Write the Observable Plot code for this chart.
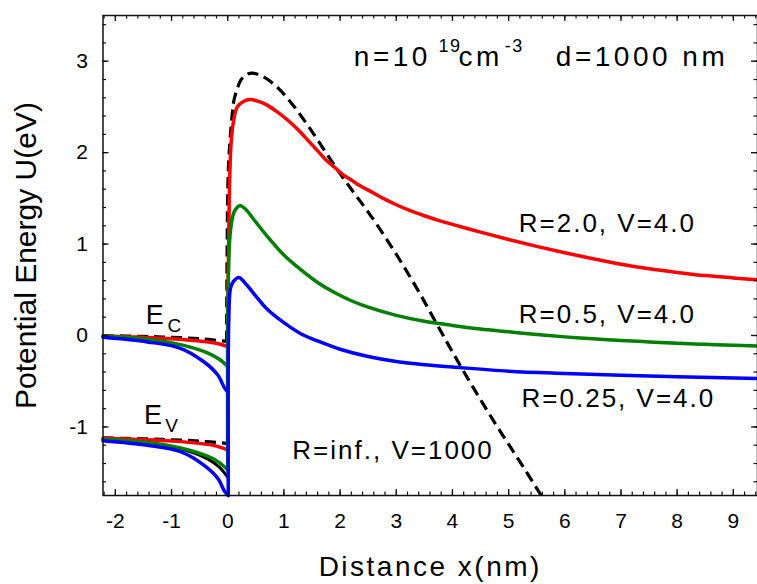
<!DOCTYPE html>
<html><head><meta charset="utf-8">
<script src="https://cdn.jsdelivr.net/npm/d3@7"></script>
<script src="https://cdn.jsdelivr.net/npm/@observablehq/plot@0.6"></script>
<style>
body{margin:0;background:#fff;}
#chart svg{display:block;}
</style></head><body><div id="chart"></div>
<script>
// ---- tick values ----
const xTicks = [-2,-1,0,1,2,3,4,5,6,7,8,9];
const yTicks = [-1,0,1,2,3];
const xMinor = d3.range(-2.2, 9.41, 0.2).map(v => +v.toFixed(1));
const yMinor = d3.range(-1.6, 3.41, 0.2).map(v => +v.toFixed(1));

// ---- curves [x (nm), U (eV)] ----
// R=inf., V=1000 (black dashed)
const dashC = [[-2.22,0.0],[-1.5,-0.01],[-1,-0.02],[-0.5,-0.035],[-0.02,-0.065]];
const dashV = [[-2.22,-1.12],[-1.5,-1.13],[-1,-1.14],[-0.5,-1.155],[-0.02,-1.18]];
const dashBarrier = [[-0.02,-0.065],[-0.01,1.0],[0.01,1.8],[0.04,2.13],[0.08,2.42],[0.11,2.57],[0.17,2.7],[0.23,2.79],[0.32,2.85],[0.44,2.87],[0.6,2.84],[0.8,2.76],[1.0,2.64],[1.2,2.49],[1.4,2.32],[1.6,2.14],[1.9,1.86],[2.2,1.6],[2.5,1.35],[2.8,1.08],[3.1,0.79],[3.4,0.48],[3.7,0.15],[4.0,-0.18],[4.4,-0.6],[4.8,-1.0],[5.2,-1.38],[5.6,-1.77]];
// R=2.0, V=4.0 (red)
const redC = [[-2.22,-0.005],[-1.5,-0.02],[-1,-0.035],[-0.5,-0.06],[-0.2,-0.085],[0,-0.12]];
const redV = [[-2.22,-1.125],[-1.5,-1.14],[-1,-1.155],[-0.5,-1.18],[-0.2,-1.21],[0,-1.25]];
const redBarrier = [[0,-1.25],[0.005,0.5],[0.03,1.6],[0.06,2.1],[0.1,2.33],[0.17,2.5],[0.28,2.56],[0.4,2.58],[0.55,2.56],[0.7,2.52],[0.85,2.46],[1.0,2.39],[1.15,2.31],[1.3,2.22],[1.45,2.12],[1.6,2.02],[1.75,1.92],[1.9,1.84],[2.05,1.76],[2.2,1.7],[2.35,1.64],[2.5,1.59],[2.75,1.505],[3.0,1.43],[3.25,1.365],[3.5,1.31],[3.75,1.26],[4.0,1.215],[4.5,1.13],[5.0,1.05],[5.5,0.975],[6.0,0.905],[6.5,0.84],[7.0,0.78],[7.5,0.73],[8.0,0.69],[8.5,0.655],[9.0,0.63],[9.43,0.61]];
// R=0.5, V=4.0 (green)
const greenC = [[-2.22,-0.005],[-1.43,-0.04],[-0.84,-0.1],[-0.36,-0.19],[-0.15,-0.26],[0,-0.34]];
const greenV = [[-2.22,-1.135],[-1.43,-1.17],[-0.84,-1.23],[-0.36,-1.32],[-0.15,-1.39],[0,-1.47]];
const greenBarrier = [[0,-1.47],[0.01,0.6],[0.05,1.15],[0.12,1.36],[0.22,1.42],[0.32,1.38],[0.45,1.28],[0.71,1.08],[1.0,0.88],[1.3,0.72],[1.6,0.58],[1.9,0.47],[2.2,0.38],[2.5,0.31],[3.0,0.22],[3.5,0.155],[4.0,0.11],[4.5,0.07],[5.0,0.04],[5.5,0.01],[6.0,-0.015],[6.5,-0.035],[7.0,-0.055],[7.5,-0.07],[8.0,-0.085],[8.5,-0.097],[9.0,-0.107],[9.43,-0.115]];
// extra valence curve (black solid)
const blackV = [[-2.22,-1.135],[-1.43,-1.18],[-0.84,-1.24],[-0.36,-1.35],[-0.15,-1.44],[0,-1.55]];
// R=0.25, V=4.0 (blue)
const blueC = [[-2.22,-0.02],[-1.43,-0.07],[-0.84,-0.14],[-0.42,-0.29],[-0.18,-0.43],[-0.05,-0.58],[0.01,-0.62]];
const blueV = [[-2.22,-1.15],[-1.43,-1.2],[-0.84,-1.27],[-0.42,-1.42],[-0.18,-1.56],[-0.05,-1.71],[0.01,-1.75]];
const blueBarrier = [[0.01,-1.75],[0.02,0.2],[0.05,0.52],[0.1,0.59],[0.2,0.635],[0.3,0.58],[0.45,0.47],[0.7,0.29],[1.0,0.14],[1.3,0.02],[1.6,-0.06],[2.0,-0.15],[2.5,-0.23],[3.0,-0.285],[3.5,-0.32],[4.0,-0.345],[5.0,-0.39],[6.0,-0.415],[7.0,-0.435],[8.0,-0.45],[9.43,-0.47]];

// ---- annotation text ----
const annLabels = ["R=2.0, V=4.0", "R=0.5, V=4.0", "R=0.25, V=4.0", "R=inf., V=1000"];
const annX = [5.18, 5.18, 5.23, 1.15];
const annY = [1.228, 0.233, -0.695, -1.263];
const titleMain = ["n=10", "cm", "d=1000 nm"];
const titleMainX = [2.245, 4.11, 5.84];
const titleSup = ["19", "-3"];
const titleSupX = [3.75, 4.93];
const bandMain = ["E", "E"];
const bandMainX = [-1.46, -1.49];
const bandMainY = [0.224, -0.877];
const bandSub = ["C", "V"];
const bandSubX = [-1.07, -1.11];
const bandSubY = [0.104, -0.991];
const xTitle = "Distance x(nm)";
const yTitle = "Potential Energy U(eV)";

const P = d => d[0], Q = d => d[1];
const ln = (data, stroke, extra = {}) => Plot.line(data, {x: P, y: Q, stroke, strokeWidth: 3.5, curve: "catmull-rom", strokeLinejoin: "round", ...extra});
const dashOpts = {stroke: "black", strokeDasharray: "11,6", strokeWidth: 3.2, strokeLinecap: "butt"};

const ML = 102.5, MR = 0, MT = 15, MB = 89, W = 757, H = 584;
const FW = W - ML - MR, FH = H - MT - MB;
const tick = 6, minor = 3.5;

const chart = Plot.plot({
  width: W, height: H,
  marginLeft: ML, marginRight: MR, marginTop: MT, marginBottom: MB,
  x: {domain: [-2.22, 9.43]},
  y: {domain: [-1.75, 3.5]},
  style: {fontFamily: "'Liberation Sans', Arial, sans-serif", background: "white", color: "black", overflow: "visible"},
  marks: [
    ln(blackV, "black", {strokeWidth: 3}),
    ln(dashC, "black", dashOpts),
    ln(dashV, "black", dashOpts),
    ln(dashBarrier, "black", {...dashOpts, clip: true}),
    ln(redC, "#ff0000"),
    ln(redV, "#ff0000"),
    ln(redBarrier, "#ff0000"),
    ln(greenC, "#008000"),
    ln(greenV, "#008000"),
    ln(greenBarrier, "#008000"),
    ln(blueC, "#0000ff"),
    ln(blueV, "#0000ff"),
    ln(blueBarrier, "#0000ff"),
    Plot.frame({stroke: "#111", strokeWidth: 1.5}),
    // inward ticks on all four sides
    Plot.ruleX(xTicks, {x: d => d, insetTop: FH - tick, stroke: "#111", strokeWidth: 1.3}),
    Plot.ruleX(xMinor, {x: d => d, insetTop: FH - minor, stroke: "#111", strokeWidth: 1.2}),
    Plot.ruleX(xTicks, {x: d => d, insetBottom: FH - tick, stroke: "#111", strokeWidth: 1.3}),
    Plot.ruleX(xMinor, {x: d => d, insetBottom: FH - minor, stroke: "#111", strokeWidth: 1.2}),
    Plot.ruleY(yTicks, {y: d => d, insetRight: FW - tick, stroke: "#111", strokeWidth: 1.3}),
    Plot.ruleY(yMinor, {y: d => d, insetRight: FW - minor, stroke: "#111", strokeWidth: 1.2}),
    Plot.ruleY(yTicks, {y: d => d, insetLeft: FW - tick, stroke: "#111", strokeWidth: 1.3}),
    Plot.ruleY(yMinor, {y: d => d, insetLeft: FW - minor, stroke: "#111", strokeWidth: 1.2}),
    // tick labels
    Plot.axisX(xTicks, {anchor: "bottom", tickSize: 0, tickPadding: 18, fontSize: 21, label: null, tickFormat: d => String(d)}),
    Plot.axisY(yTicks, {anchor: "left", tickSize: 0, tickPadding: 15, fontSize: 21, label: null, tickFormat: d => String(d)}),
    // axis titles
    Plot.text([xTitle], {frameAnchor: "bottom", text: d => d, dy: 72, fontSize: 28, textAnchor: "middle", lineAnchor: "middle"}),
    Plot.text([yTitle], {frameAnchor: "left", text: d => d, dx: -76.7, rotate: -90, fontSize: 30, textAnchor: "middle", lineAnchor: "middle"}),
    // annotations
    Plot.text(annLabels, {x: (d, i) => annX[i], y: (d, i) => annY[i], text: d => d, textAnchor: "start", fontSize: 26}),
    Plot.text(titleMain, {x: (d, i) => titleMainX[i], y: 3.044, text: d => d, textAnchor: "start", fontSize: 28}),
    Plot.text(titleSup, {x: (d, i) => titleSupX[i], y: 3.163, text: d => d, textAnchor: "start", fontSize: 18}),
    Plot.text(bandMain, {x: (d, i) => bandMainX[i], y: (d, i) => bandMainY[i], text: d => d, textAnchor: "start", fontSize: 27}),
    Plot.text(bandSub, {x: (d, i) => bandSubX[i], y: (d, i) => bandSubY[i], text: d => d, textAnchor: "start", fontSize: 19})
  ]
});
// letter spacing as in the original typesetting
const spacing = new Map([...annLabels.map(t => [t, "2px"]), ...titleMain.map(t => [t, "3.5px"]), ...titleSup.map(t => [t, "1.5px"]), [xTitle, "2.5px"]]);
d3.select(chart).selectAll("text").each(function () {
  const s = spacing.get(this.textContent);
  if (s) this.style.letterSpacing = s;
});
document.getElementById("chart").appendChild(chart);
</script>
</body></html>
